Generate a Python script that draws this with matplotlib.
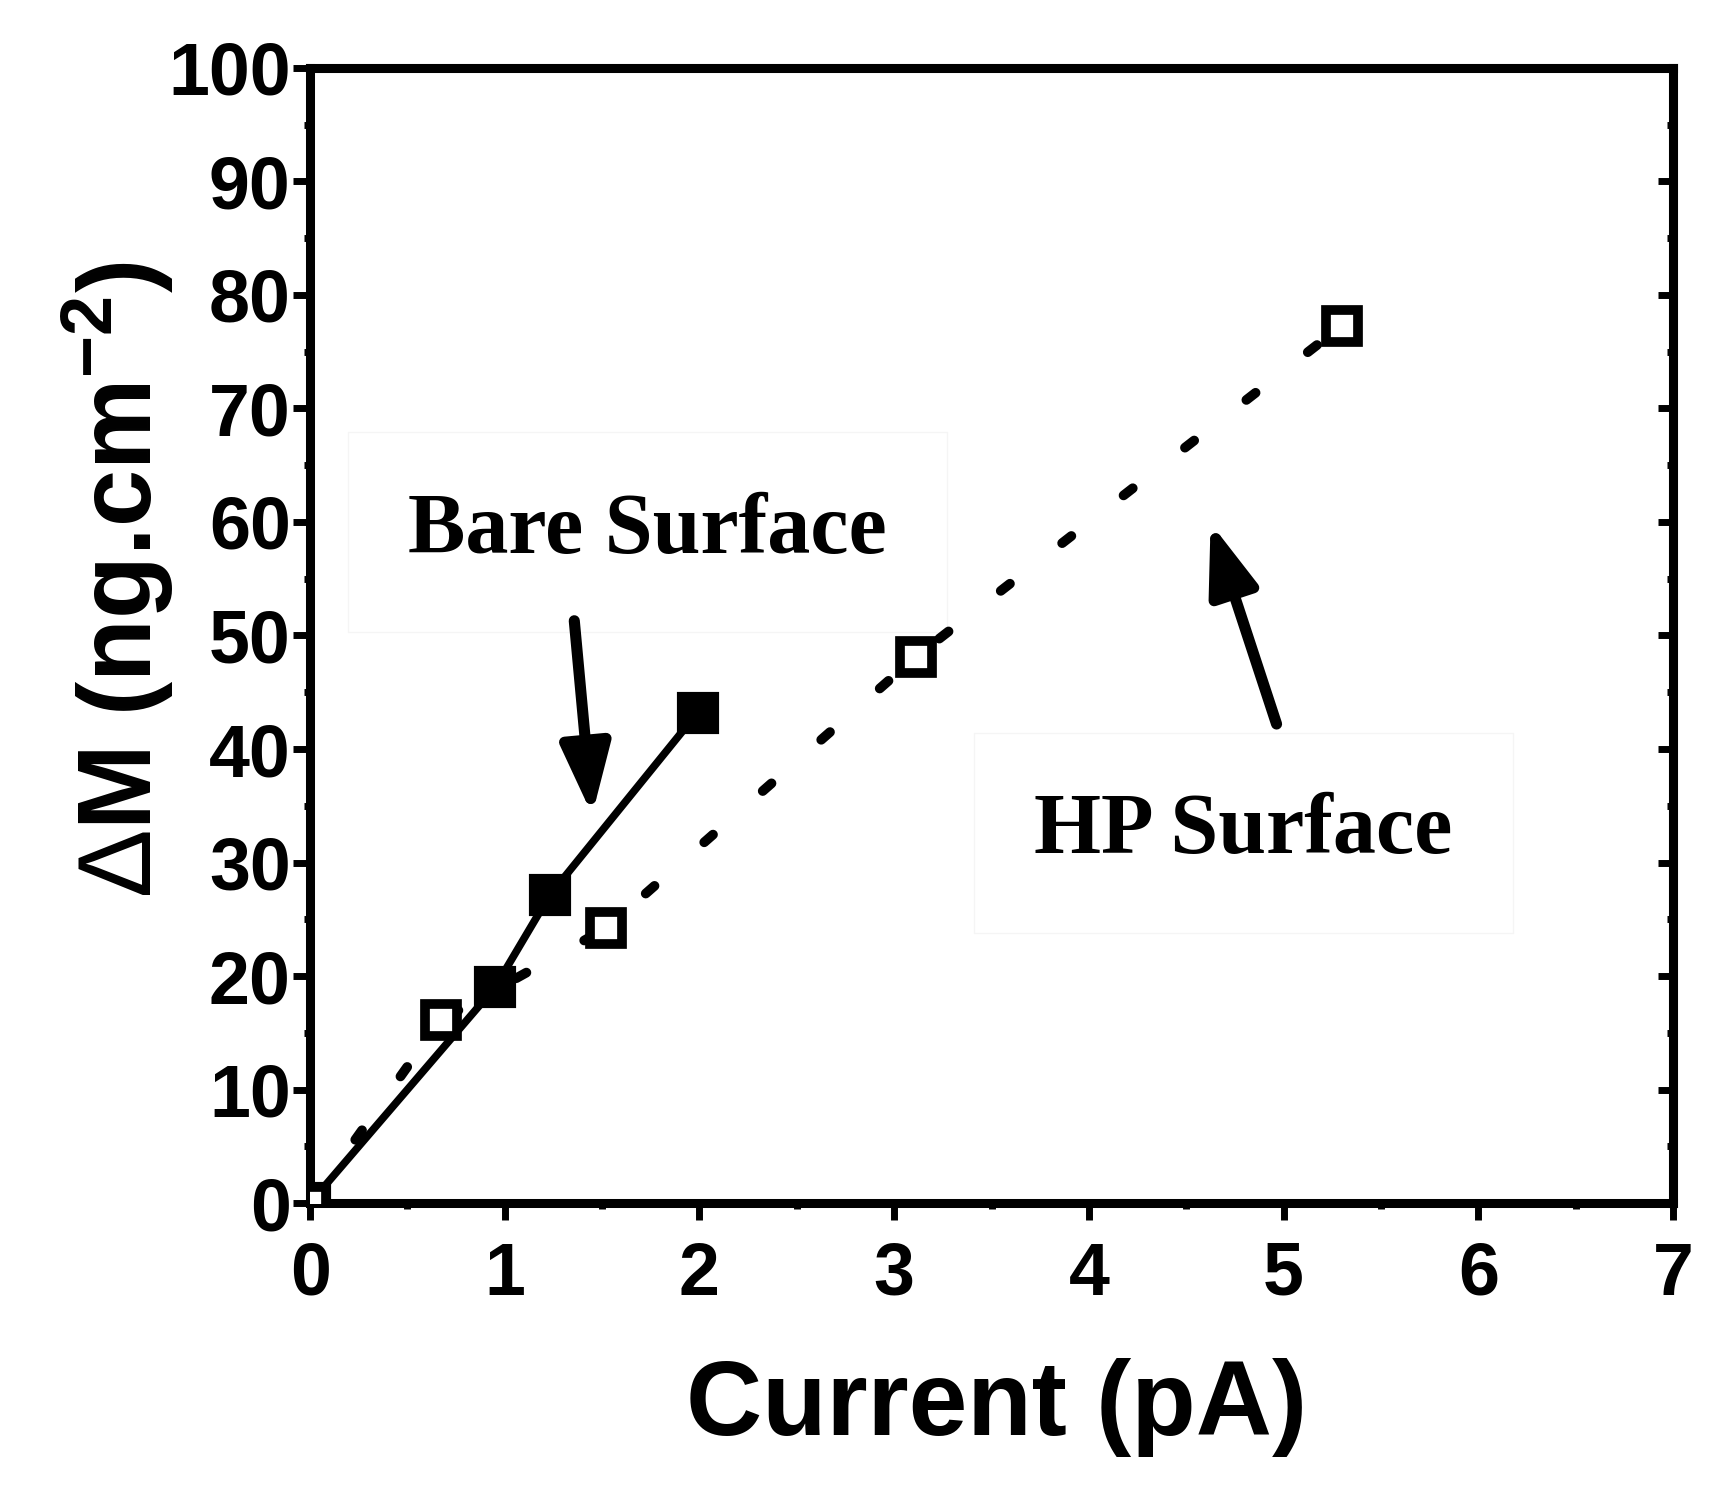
import matplotlib
matplotlib.use("Agg")
import matplotlib.pyplot as plt
from matplotlib.ticker import MultipleLocator

plt.rcParams['font.family'] = ['Liberation Sans', 'DejaVu Sans']
plt.rcParams['font.weight'] = 'bold'
plt.rcParams['mathtext.fontset'] = 'custom'
plt.rcParams['mathtext.rm'] = 'Liberation Sans:weight=normal'
plt.rcParams['mathtext.bf'] = 'Liberation Sans:weight=bold'

# bare surface (filled squares, solid line)
bare_x = [0.0, 0.95, 1.23, 1.99]
bare_y = [0.0, 19.0, 27.1, 43.2]

# HP surface (open squares, dotted line)
hp_x = [0.0, 0.67, 1.52, 3.11, 5.30]
hp_y = [0.0, 16.1, 24.2, 48.1, 77.3]

xticks = [0, 1, 2, 3, 4, 5, 6, 7]
yticks = [0, 10, 20, 30, 40, 50, 60, 70, 80, 90, 100]

fig = plt.figure(figsize=(17.15, 14.93), dpi=100)
ax = fig.add_axes([0.1808, 0.1942, 0.7947, 0.7603])

ax.plot(bare_x, bare_y, color='black', lw=5.5, marker='s', markersize=28,
        markerfacecolor='black', markeredgecolor='black', mew=3, zorder=3)
ax.plot(hp_x, hp_y, color='black', lw=7, linestyle=(0, (1.2, 6.8)),
        dash_capstyle='round', marker='s', markersize=23,
        markerfacecolor='white', markeredgecolor='black', mew=7, zorder=4)

ax.set_xlim(0, 7)
ax.set_ylim(0, 100)
ax.set_xticks(xticks)
ax.set_yticks(yticks)
ax.xaxis.set_minor_locator(MultipleLocator(0.5))
ax.yaxis.set_minor_locator(MultipleLocator(5))
ax.tick_params(which='major', direction='out', length=12, width=5,
               labelsize=53, top=False, right=False)
ax.tick_params(which='minor', direction='out', length=4, width=5,
               top=False, right=False)
ax.tick_params(axis='x', pad=15)
ax.tick_params(axis='y', pad=2)
for s in ax.spines.values():
    s.set_linewidth(6.5)

sec_x = ax.secondary_xaxis('top')
sec_x.set_xticks(xticks)
sec_x.xaxis.set_minor_locator(MultipleLocator(0.5))
sec_x.tick_params(which='both', direction='in', length=3, width=5, labeltop=False)
sec_x.spines['top'].set_linewidth(6.5)

sec_y = ax.secondary_yaxis('right')
sec_y.set_yticks(yticks)
sec_y.yaxis.set_minor_locator(MultipleLocator(5))
sec_y.tick_params(which='major', direction='in', length=11, width=5, labelright=False)
sec_y.tick_params(which='minor', direction='in', length=4, width=5, labelright=False)
sec_y.spines['right'].set_linewidth(6.5)

fig.text(0.581, 0.0388, 'Current (pA)', fontsize=76, fontweight='bold',
         ha='center', va='baseline')
fig.text(0.0688, 0.6115, r'$\Delta$M (ng.cm$^{\mathbf{-2}}$)', fontsize=74,
         fontweight='bold', rotation=90, ha='center', va='center')

box = dict(boxstyle='square,pad=0.7', fc='white', ec='#f5f5f5', lw=1)
ax.text(1.732, 57.3, 'Bare Surface', family='Liberation Serif',
        fontsize=62, fontweight='bold', ha='center', va='baseline', bbox=box)
ax.text(4.795, 30.8, 'HP Surface', family='Liberation Serif',
        fontsize=62, fontweight='bold', ha='center', va='baseline', bbox=box)

arrow = dict(arrowstyle='-|>,head_length=0.42,head_width=0.15', lw=8,
             color='black', mutation_scale=100, shrinkA=0, shrinkB=0)
ax.annotate('', xy=(1.449, 34.2), xytext=(1.357, 51.3), arrowprops=arrow)
ax.annotate('', xy=(4.625, 59.9), xytext=(4.964, 42.2), arrowprops=arrow)

fig.savefig('out.png', dpi=100)
